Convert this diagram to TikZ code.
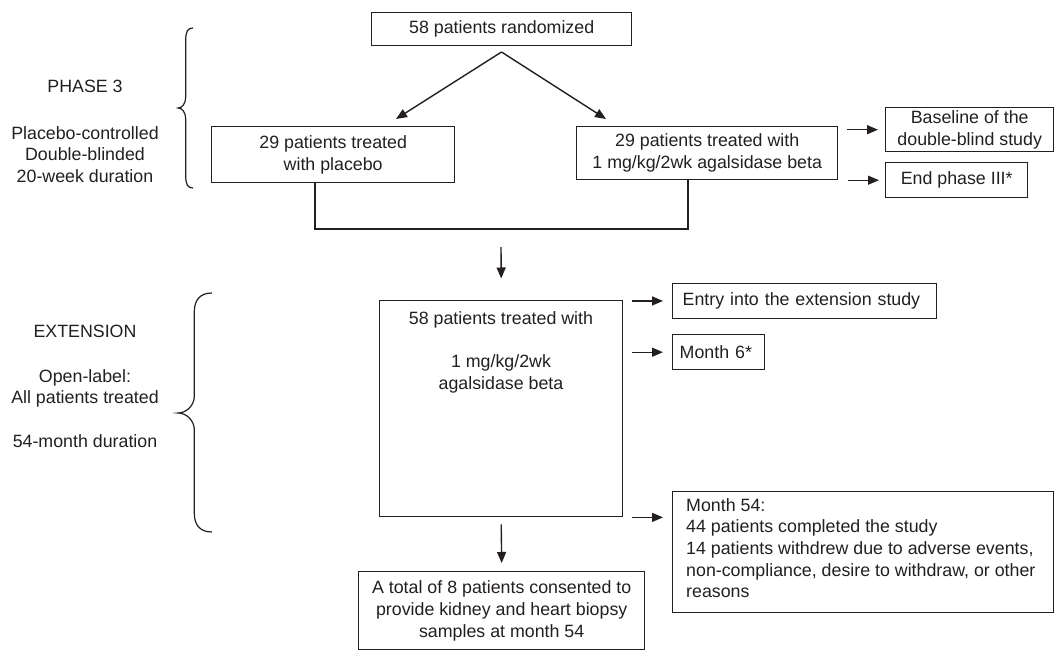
\documentclass[tikz,border=0pt]{standalone}
\usepackage{fontspec}
\setmainfont{Liberation Sans}
\usetikzlibrary{arrows.meta}
\definecolor{ink}{RGB}{35,31,32}
\begin{document}
\begin{tikzpicture}[x=1pt,y=-1pt,
  every node/.style={font=\fontsize{17.8}{21.7}\selectfont, text=ink},
  box/.style={draw=ink, line width=1.4pt, inner sep=0pt, anchor=north west, align=center},
  lbl/.style={inner sep=0pt, align=center},
  arr/.style={draw=ink, line width=1.4pt, -{Triangle[length=11pt,width=9pt]}},
  ln/.style={draw=ink, line width=1.4pt},
  brc/.style={draw=ink, line width=1.2pt}]
\useasboundingbox (0,0) rectangle (1054,650);

% boxes
\node[box, minimum width=260pt, minimum height=33pt] (rand) at (371,12) {58 patients randomized};
\node[box, minimum width=243pt, minimum height=56pt] (pl) at (211,126) {29 patients treated\\with placebo};
\node[box, minimum width=261pt, minimum height=53pt] (ag) at (576,126) {29 patients treated with\\1 mg/kg/2wk agalsidase beta};
\node[box, minimum width=168pt, minimum height=44pt] (bl) at (885,107) {Baseline of the\\double-blind study};
\node[box, minimum width=142pt, minimum height=35pt] (ep) at (885,162) {End phase III*};
\node[box, minimum width=243pt, minimum height=216pt] (ext) at (379,300) {};
\node[lbl, anchor=north] (extT) at (501,311) {58 patients treated with\\[21.7pt]1 mg/kg/2wk\\agalsidase beta};
\node[box, minimum width=264pt, minimum height=34.5pt, text width=244pt, inner xsep=10pt, align=left] (entry) at (672,283) {Entry into the extension study};
\node[box, minimum width=92pt, minimum height=35pt, text width=78pt, inner xsep=7pt, align=left] (m6) at (672,334) {Month 6*};
\node[box, minimum width=381pt, minimum height=121pt] (m54) at (672,491) {};
\node[lbl, anchor=north west, align=left] (m54T) at (686,498) {Month 54:\\44 patients completed the study\\14 patients withdrew due to adverse events,\\non-compliance, desire to withdraw, or other\\reasons};
\node[box, minimum width=286pt, minimum height=78pt] (bot) at (358,571) {A total of 8 patients consented to\\provide kidney and heart biopsy\\samples at month 54};

% side labels
\node[lbl, anchor=base] (ph) at (85,92.7) {PHASE 3};
\node[lbl, anchor=north] (phd) at (85,126) {Placebo-controlled\\Double-blinded\\20-week duration};
\node[lbl, anchor=base] (ex) at (85,337) {EXTENSION};
\node[lbl, anchor=north] (exd) at (85,369) {Open-label:\\All patients treated\\[21.7pt]54-month duration};

% braces
\draw[brc] (193,28) .. controls (187.5,28) and (185.7,32) .. (185.7,40) -- (185.7,97)
  .. controls (185.7,104) and (182,108) .. (178,108)
  .. controls (182,108) and (185.7,112) .. (185.7,119) -- (185.7,176)
  .. controls (185.7,184) and (187.5,188) .. (193,188);
\draw[brc] (212,293) .. controls (200,293) and (194.3,300) .. (194.3,312) -- (194.3,396)
  .. controls (194.3,406) and (186,413) .. (178,413)
  .. controls (186,413) and (194.3,420) .. (194.3,430) -- (194.3,513)
  .. controls (194.3,525) and (200,532) .. (212,532);

% connectors
\coordinate (rs) at (501.5,52);
\coordinate (pltip) at (396,119);
\coordinate (agtip) at (606,119);
\draw[arr] (rs) -- (pltip);
\draw[arr] (rs) -- (agtip);

\coordinate (j1) at (315,229);
\coordinate (j2) at (688,229);
\draw[ln] (pl.south -| j1) -- (j1) -- (j2) -- (ag.south -| j2);
\coordinate (jd) at (501,247);
\draw[arr] (jd) -- ([yshift=21.5pt]ext.north);

\draw[arr] ([xshift=9pt]ag.east |- bl.west) -- ([xshift=-7pt]bl.west);
\draw[arr] ([xshift=10pt]ag.east |- ep.west) -- ([xshift=-6pt]ep.west);
\draw[arr] ([xshift=9pt]ext.east |- entry.west) -- ([xshift=-9pt]entry.west);
\draw[arr] ([xshift=9pt]ext.east |- m6.west) -- ([xshift=-9pt]m6.west);
\draw[arr] ([xshift=9pt]ext.south east) -- ([xshift=-9pt]m54.west |- ext.south east);
\draw[arr] ([yshift=-7pt]ext.south) -- ([yshift=8pt]bot.north);
\end{tikzpicture}
\end{document}
